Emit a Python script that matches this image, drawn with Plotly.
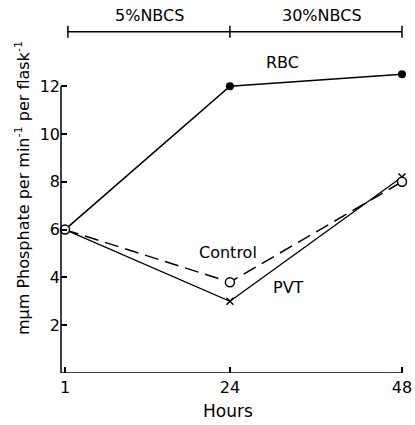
import plotly.graph_objects as go

hours = [1, 24, 48]
rbc = [6.0, 12.0, 12.5]
control = [6.0, 3.8, 8.0]
pvt = [6.0, 3.0, 8.2]
y_ticks = [2, 4, 6, 8, 10, 12]
x_ticks = [1, 24, 48]
x_tick_text = ["1", "24", "48"]
phase_labels = ["5%NBCS", "30%NBCS"]
phase_bounds = [1, 24, 48]

FONT = "DejaVu Sans"
FS = 16
W, H = 415, 425
L, R, T, B = 61, 3, 5, 52
pw = W - L - R
ph = H - T - B
# pixel scales
px_per_hr = 7.17
px_per_unit = 23.9
xmin = 1 - 4 / px_per_hr
xmax = xmin + pw / px_per_hr
ymax = ph / px_per_unit

fig = go.Figure()
fig.add_trace(go.Scatter(x=hours, y=rbc, mode="lines+markers",
                         line=dict(color="black", width=1.6),
                         marker=dict(symbol="circle", size=8, color="black"),
                         cliponaxis=False, showlegend=False))
fig.add_trace(go.Scatter(x=hours, y=pvt, mode="lines+markers",
                         line=dict(color="black", width=1.3),
                         marker=dict(symbol="x-thin", size=7, line=dict(color="black", width=1.5)),
                         cliponaxis=False, showlegend=False))
fig.add_trace(go.Scatter(x=hours, y=control, mode="lines+markers",
                         line=dict(color="black", width=1.5, dash="14px,7px"),
                         marker=dict(symbol="circle", size=9, color="white",
                                     line=dict(color="black", width=1.5)),
                         cliponaxis=False, showlegend=False))

shapes = []
# axes lines
shapes.append(dict(type="line", xref="paper", yref="y", x0=0, x1=0, y0=0, y1=max(y_ticks),
                   line=dict(color="black", width=1.5)))
shapes.append(dict(type="line", xref="paper", yref="y", x0=0, x1=(48 - xmin) / (xmax - xmin), y0=0, y1=0,
                   line=dict(color="black", width=1.5)))
# top bracket
yb = (373 - 31.7) / px_per_unit
shapes.append(dict(type="line", xref="x", yref="y", x0=phase_bounds[0] + 0.4, x1=phase_bounds[-1], y0=yb, y1=yb,
                   line=dict(color="black", width=1.5)))
for i, b in enumerate(phase_bounds):
    xb = b + 0.4 if i == 0 else b
    shapes.append(dict(type="line", xref="x", yref="y", x0=xb, x1=xb, y0=yb - 0.25, y1=yb + 0.25,
                       line=dict(color="black", width=1.5)))

annotations = []
txt_font = dict(family=FONT, size=FS, color="black")
phase_centers_px = [149, 322]
for i, lab in enumerate(phase_labels):
    annotations.append(dict(x=1 + (phase_centers_px[i] - 65) / px_per_hr, y=(373 - 15) / px_per_unit,
                            xref="x", yref="y", text=lab, showarrow=False,
                            xanchor="center", yanchor="middle", font=txt_font))
annotations.append(dict(x=1 + (282 - 65) / px_per_hr, y=(373 - 62) / px_per_unit, xref="x", yref="y",
                        text="RBC", showarrow=False, xanchor="center", yanchor="middle", font=txt_font))
annotations.append(dict(x=1 + (228 - 65) / px_per_hr, y=(373 - 252) / px_per_unit, xref="x", yref="y",
                        text="Control", showarrow=False, xanchor="center", yanchor="middle", font=txt_font))
annotations.append(dict(x=1 + (288 - 65) / px_per_hr, y=(373 - 287) / px_per_unit, xref="x", yref="y",
                        text="PVT", showarrow=False, xanchor="center", yanchor="middle", font=txt_font))
annotations.append(dict(x=(22 - L) / pw, y=(373 - 188) / ph, xref="paper", yref="paper",
                        text="mμm Phosphate per min<sup>-1</sup> per flask<sup>-1</sup>", textangle=-90,
                        showarrow=False, xanchor="center", yanchor="middle",
                        font=dict(family=FONT, size=16, color="black")))
annotations.append(dict(x=(228 - L) / pw, y=(373 - 411) / ph, xref="paper", yref="paper",
                        text="Hours", showarrow=False, xanchor="center", yanchor="middle",
                        font=dict(family=FONT, size=17, color="black")))

fig.update_layout(
    width=W, height=H,
    margin=dict(l=L, r=R, t=T, b=B, pad=0),
    paper_bgcolor="white", plot_bgcolor="white",
    shapes=shapes, annotations=annotations,
    xaxis=dict(range=[xmin, xmax], tickvals=x_ticks, ticktext=x_tick_text, ticks="inside",
               ticklen=6, tickwidth=1.5, tickcolor="black", showgrid=False, zeroline=False,
               showline=False, ticklabelstandoff=3, tickfont=dict(family=FONT, size=FS, color="black")),
    yaxis=dict(range=[0, ymax], tickvals=y_ticks, ticks="inside", ticklen=6, tickwidth=1.5,
               tickcolor="black", showgrid=False, zeroline=False, showline=False,
               tickfont=dict(family=FONT, size=FS, color="black")),
)

fig.write_html("out.html", config={"displayModeBar": False},
               post_script="document.body.style.margin='0';document.body.style.padding='0';")
